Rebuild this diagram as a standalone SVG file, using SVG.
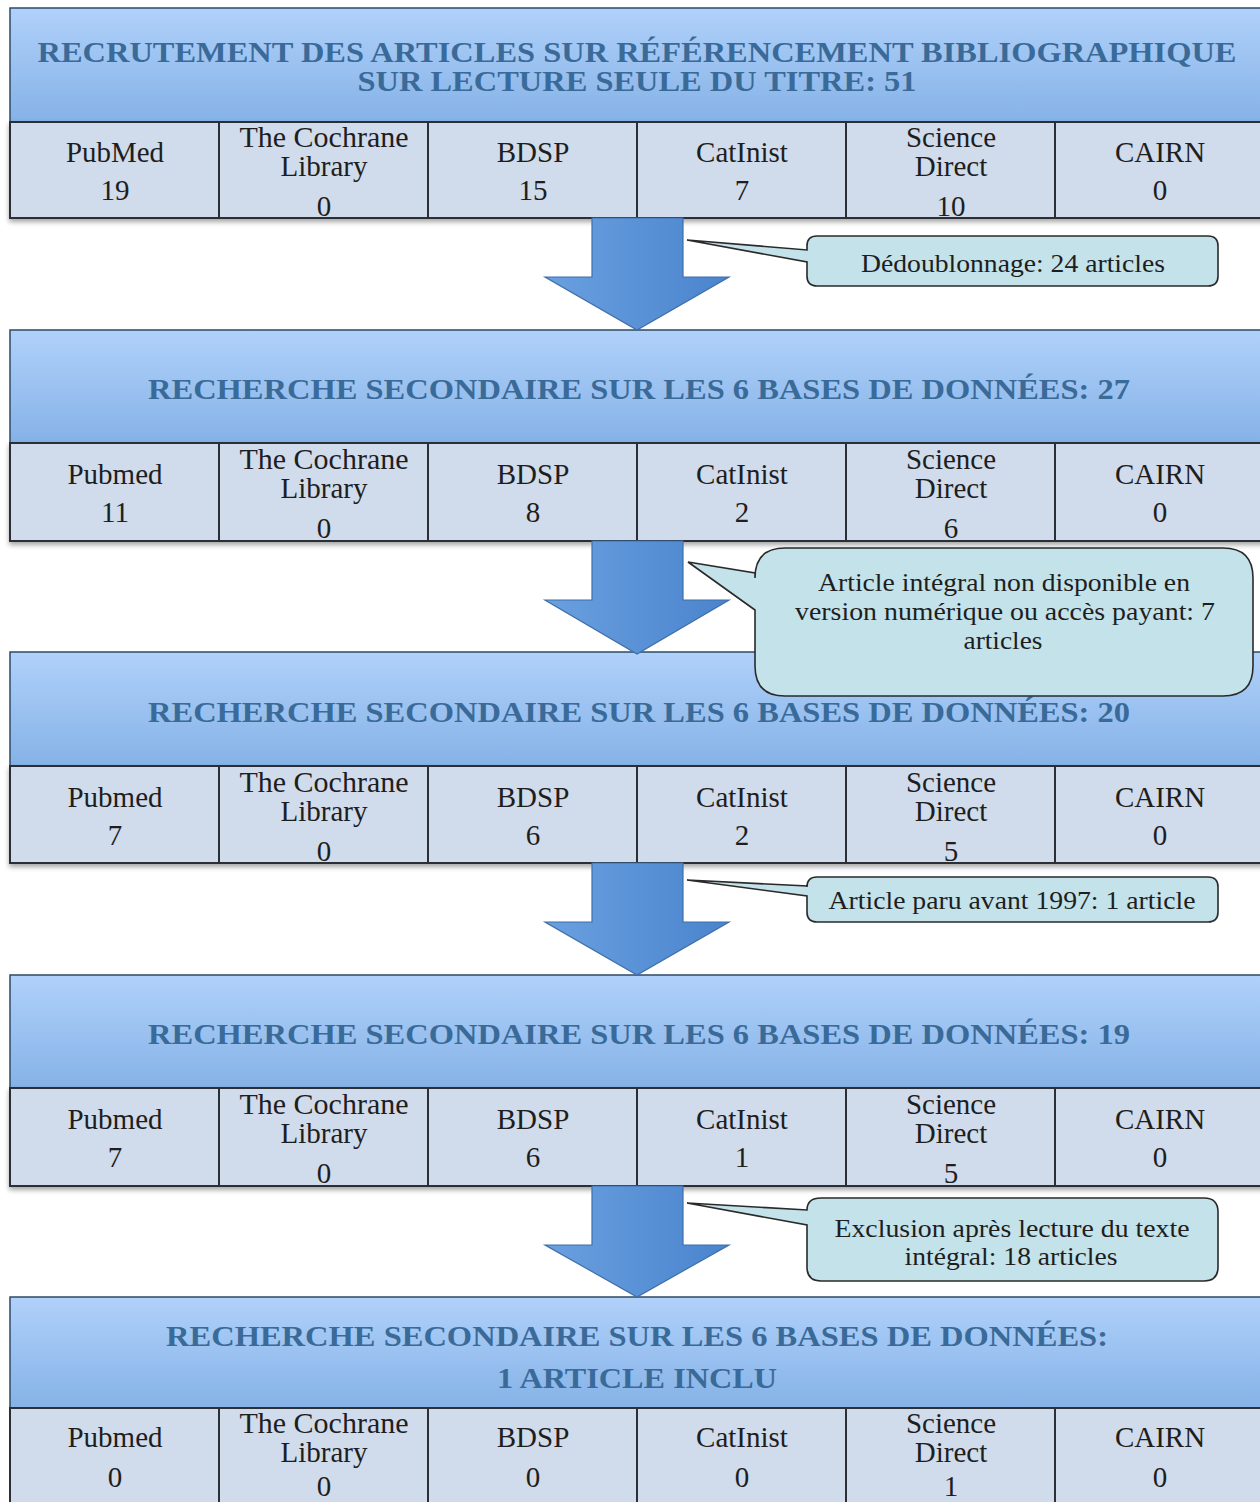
<svg xmlns="http://www.w3.org/2000/svg" width="1260" height="1502" viewBox="0 0 1260 1502">
<defs>
<linearGradient id="hg" x1="0" y1="0" x2="0" y2="1">
<stop offset="0" stop-color="#b0d1fa"/>
<stop offset="1" stop-color="#85b2e7"/>
</linearGradient>
<linearGradient id="ag" x1="0" y1="0" x2="1" y2="0">
<stop offset="0" stop-color="#6aa0e0"/>
<stop offset="1" stop-color="#4a84cd"/>
</linearGradient>
<filter id="sh" x="-5%" y="-20%" width="110%" height="150%">
<feDropShadow dx="0" dy="3" stdDeviation="2.5" flood-color="#000" flood-opacity="0.35"/>
</filter>
<style>
.hdr{fill:url(#hg);stroke:#2e4a66;stroke-width:1.5}
.cell{fill:#d0dbeb;stroke:#2b2f36;stroke-width:2}
.ht{font-family:"Liberation Serif",serif;font-weight:bold;font-size:29px;fill:#3a6a98;text-anchor:middle}
.ct{font-family:"Liberation Serif",serif;font-size:29px;fill:#1e1e1e;text-anchor:middle}
.co{fill:#c4e2ea;stroke:#2a2a2a;stroke-width:1.6}
.cot{font-family:"Liberation Serif",serif;font-size:26px;fill:#1e1e1e;text-anchor:middle}
.arr{fill:url(#ag);stroke:#3f6ea8;stroke-width:1.2}
</style>
</defs>

<g id="block1">
<rect class="hdr" x="10" y="8" width="1262" height="114"/>
<text class="ht" x="637" y="62" textLength="1199" lengthAdjust="spacingAndGlyphs">RECRUTEMENT DES ARTICLES SUR RÉFÉRENCEMENT BIBLIOGRAPHIQUE</text>
<text class="ht" x="637" y="91" textLength="559" lengthAdjust="spacingAndGlyphs">SUR LECTURE SEULE DU TITRE: 51</text>
<g filter="url(#sh)">
<rect class="cell" x="10" y="122" width="209" height="96"/>
<rect class="cell" x="219" y="122" width="209" height="96"/>
<rect class="cell" x="428" y="122" width="209" height="96"/>
<rect class="cell" x="637" y="122" width="209" height="96"/>
<rect class="cell" x="846" y="122" width="209" height="96"/>
<rect class="cell" x="1055" y="122" width="217" height="96"/>
</g>
<text class="ct" x="115" y="162" textLength="98" lengthAdjust="spacingAndGlyphs">PubMed</text><text class="ct" x="115" y="200">19</text>
<text class="ct" x="324" y="147" textLength="169" lengthAdjust="spacingAndGlyphs">The Cochrane</text><text class="ct" x="324" y="176">Library</text><text class="ct" x="324" y="216">0</text>
<text class="ct" x="533" y="162">BDSP</text><text class="ct" x="533" y="200">15</text>
<text class="ct" x="742" y="162">CatInist</text><text class="ct" x="742" y="200">7</text>
<text class="ct" x="951" y="147">Science</text><text class="ct" x="951" y="176">Direct</text><text class="ct" x="951" y="216">10</text>
<text class="ct" x="1160" y="162">CAIRN</text><text class="ct" x="1160" y="200">0</text>
</g>

<g id="block2">
<rect class="hdr" x="10" y="330" width="1262" height="113"/>
<text class="ht" x="639" y="399" textLength="982" lengthAdjust="spacingAndGlyphs">RECHERCHE SECONDAIRE SUR LES 6 BASES DE DONNÉES: 27</text>
<g filter="url(#sh)">
<rect class="cell" x="10" y="443" width="209" height="98"/>
<rect class="cell" x="219" y="443" width="209" height="98"/>
<rect class="cell" x="428" y="443" width="209" height="98"/>
<rect class="cell" x="637" y="443" width="209" height="98"/>
<rect class="cell" x="846" y="443" width="209" height="98"/>
<rect class="cell" x="1055" y="443" width="217" height="98"/>
</g>
<text class="ct" x="115" y="484">Pubmed</text><text class="ct" x="115" y="522">11</text>
<text class="ct" x="324" y="469" textLength="169" lengthAdjust="spacingAndGlyphs">The Cochrane</text><text class="ct" x="324" y="498">Library</text><text class="ct" x="324" y="538">0</text>
<text class="ct" x="533" y="484">BDSP</text><text class="ct" x="533" y="522">8</text>
<text class="ct" x="742" y="484">CatInist</text><text class="ct" x="742" y="522">2</text>
<text class="ct" x="951" y="469">Science</text><text class="ct" x="951" y="498">Direct</text><text class="ct" x="951" y="538">6</text>
<text class="ct" x="1160" y="484">CAIRN</text><text class="ct" x="1160" y="522">0</text>
</g>

<g id="block3">
<rect class="hdr" x="10" y="652" width="1262" height="114"/>
<text class="ht" x="639" y="722" textLength="982" lengthAdjust="spacingAndGlyphs">RECHERCHE SECONDAIRE SUR LES 6 BASES DE DONNÉES: 20</text>
<g filter="url(#sh)">
<rect class="cell" x="10" y="766" width="209" height="97"/>
<rect class="cell" x="219" y="766" width="209" height="97"/>
<rect class="cell" x="428" y="766" width="209" height="97"/>
<rect class="cell" x="637" y="766" width="209" height="97"/>
<rect class="cell" x="846" y="766" width="209" height="97"/>
<rect class="cell" x="1055" y="766" width="217" height="97"/>
</g>
<text class="ct" x="115" y="807">Pubmed</text><text class="ct" x="115" y="845">7</text>
<text class="ct" x="324" y="792" textLength="169" lengthAdjust="spacingAndGlyphs">The Cochrane</text><text class="ct" x="324" y="821">Library</text><text class="ct" x="324" y="861">0</text>
<text class="ct" x="533" y="807">BDSP</text><text class="ct" x="533" y="845">6</text>
<text class="ct" x="742" y="807">CatInist</text><text class="ct" x="742" y="845">2</text>
<text class="ct" x="951" y="792">Science</text><text class="ct" x="951" y="821">Direct</text><text class="ct" x="951" y="861">5</text>
<text class="ct" x="1160" y="807">CAIRN</text><text class="ct" x="1160" y="845">0</text>
</g>

<g id="block4">
<rect class="hdr" x="10" y="975" width="1262" height="113"/>
<text class="ht" x="639" y="1044" textLength="982" lengthAdjust="spacingAndGlyphs">RECHERCHE SECONDAIRE SUR LES 6 BASES DE DONNÉES: 19</text>
<g filter="url(#sh)">
<rect class="cell" x="10" y="1088" width="209" height="98"/>
<rect class="cell" x="219" y="1088" width="209" height="98"/>
<rect class="cell" x="428" y="1088" width="209" height="98"/>
<rect class="cell" x="637" y="1088" width="209" height="98"/>
<rect class="cell" x="846" y="1088" width="209" height="98"/>
<rect class="cell" x="1055" y="1088" width="217" height="98"/>
</g>
<text class="ct" x="115" y="1129">Pubmed</text><text class="ct" x="115" y="1167">7</text>
<text class="ct" x="324" y="1114" textLength="169" lengthAdjust="spacingAndGlyphs">The Cochrane</text><text class="ct" x="324" y="1143">Library</text><text class="ct" x="324" y="1183">0</text>
<text class="ct" x="533" y="1129">BDSP</text><text class="ct" x="533" y="1167">6</text>
<text class="ct" x="742" y="1129">CatInist</text><text class="ct" x="742" y="1167">1</text>
<text class="ct" x="951" y="1114">Science</text><text class="ct" x="951" y="1143">Direct</text><text class="ct" x="951" y="1183">5</text>
<text class="ct" x="1160" y="1129">CAIRN</text><text class="ct" x="1160" y="1167">0</text>
</g>

<g id="block5">
<rect class="hdr" x="10" y="1297" width="1262" height="111"/>
<text class="ht" x="637" y="1346" textLength="942" lengthAdjust="spacingAndGlyphs">RECHERCHE SECONDAIRE SUR LES 6 BASES DE DONNÉES:</text>
<text class="ht" x="637" y="1388" textLength="280" lengthAdjust="spacingAndGlyphs">1 ARTICLE INCLU</text>
<rect class="cell" x="10" y="1408" width="209" height="100"/>
<rect class="cell" x="219" y="1408" width="209" height="100"/>
<rect class="cell" x="428" y="1408" width="209" height="100"/>
<rect class="cell" x="637" y="1408" width="209" height="100"/>
<rect class="cell" x="846" y="1408" width="209" height="100"/>
<rect class="cell" x="1055" y="1408" width="217" height="100"/>
<text class="ct" x="115" y="1447">Pubmed</text><text class="ct" x="115" y="1487">0</text>
<text class="ct" x="324" y="1433" textLength="169" lengthAdjust="spacingAndGlyphs">The Cochrane</text><text class="ct" x="324" y="1462">Library</text><text class="ct" x="324" y="1496">0</text>
<text class="ct" x="533" y="1447">BDSP</text><text class="ct" x="533" y="1487">0</text>
<text class="ct" x="742" y="1447">CatInist</text><text class="ct" x="742" y="1487">0</text>
<text class="ct" x="951" y="1433">Science</text><text class="ct" x="951" y="1462">Direct</text><text class="ct" x="951" y="1496">1</text>
<text class="ct" x="1160" y="1447">CAIRN</text><text class="ct" x="1160" y="1487">0</text>
</g>

<g id="connectors">
<path class="arr" d="M592,218 H683 V277 H729 L637,330 L545,277 H592 Z"/>
<path class="arr" d="M592,541 H683 V600 H729 L637,654 L545,600 H592 Z"/>
<path class="arr" d="M592,863 H683 V922 H729 L637,975 L545,922 H592 Z"/>
<path class="arr" d="M592,1186 H683 V1245 H729 L637,1297 L545,1245 H592 Z"/>
</g>

<g id="callout1">
<path class="co" d="M817,236 H1208 Q1218,236 1218,246 V276 Q1218,286 1208,286 H817 Q807,286 807,276 V262 L687,240 L807,250 V246 Q807,236 817,236 Z"/>
<text class="cot" x="1013" y="272" textLength="304" lengthAdjust="spacingAndGlyphs">Dédoublonnage: 24 articles</text>
</g>

<g id="callout2">
<path class="co" d="M785,548 H1223 Q1253,548 1253,578 V666 Q1253,696 1223,696 H785 Q755,696 755,666 V610 L688,562 L755,573 V578 Q755,548 785,548 Z"/>
<text class="cot" x="1004" y="591" textLength="372" lengthAdjust="spacingAndGlyphs">Article intégral non disponible en</text>
<text class="cot" x="1005" y="620" textLength="420" lengthAdjust="spacingAndGlyphs">version numérique ou accès payant: 7</text>
<text class="cot" x="1003" y="649" textLength="79" lengthAdjust="spacingAndGlyphs">articles</text>
</g>

<g id="callout3">
<path class="co" d="M817,877 H1208 Q1218,877 1218,887 V912 Q1218,922 1208,922 H817 Q807,922 807,912 V896 L687,880 L807,886 V887 Q807,877 817,877 Z"/>
<text class="cot" x="1012" y="909" textLength="367" lengthAdjust="spacingAndGlyphs">Article paru avant 1997: 1 article</text>
</g>

<g id="callout4">
<path class="co" d="M821,1198 H1204 Q1218,1198 1218,1212 V1267 Q1218,1281 1204,1281 H821 Q807,1281 807,1267 V1225 L687,1203 L807,1210 Q807,1198 821,1198 Z"/>
<text class="cot" x="1012" y="1237" textLength="355" lengthAdjust="spacingAndGlyphs">Exclusion après lecture du texte</text>
<text class="cot" x="1011" y="1265" textLength="213" lengthAdjust="spacingAndGlyphs">intégral: 18 articles</text>
</g>
</svg>
